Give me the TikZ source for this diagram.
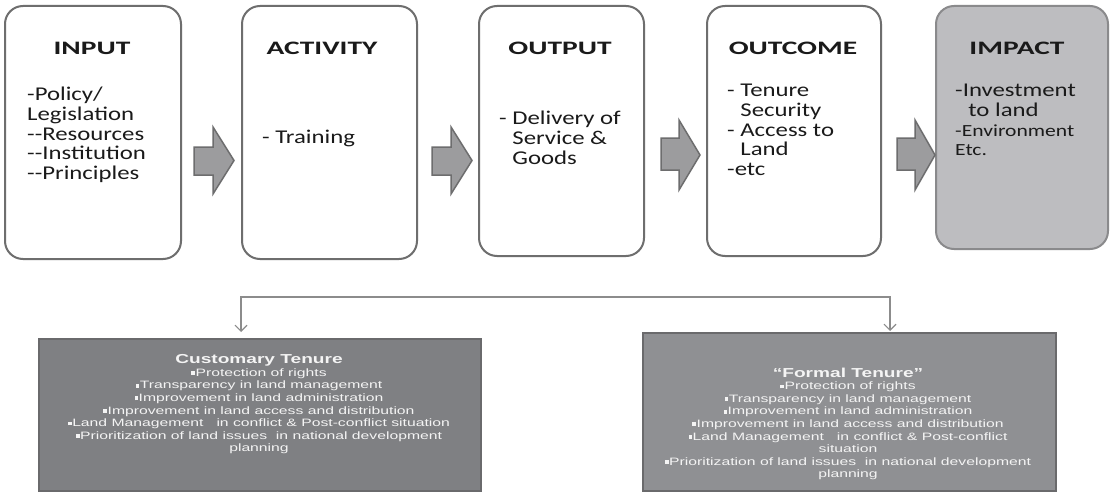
\documentclass[tikz,border=0pt]{standalone}
\usepackage{fontspec}
\setmainfont{Carlito}
\newfontfamily\bodyf[FakeStretch=1.27]{Carlito}
\newfontfamily\headf[FakeStretch=1.55]{Carlito}
\newfontfamily\lowf[FakeStretch=1.47]{Liberation Sans}
\usetikzlibrary{arrows.meta}
\definecolor{boxline}{HTML}{6E6E6E}
\definecolor{impfill}{HTML}{BDBDC0}
\definecolor{impline}{HTML}{8A8A8C}
\definecolor{arrfill}{HTML}{9C9C9E}
\definecolor{arrline}{HTML}{6D6D6E}
\definecolor{custfill}{HTML}{7F8083}
\definecolor{formfill}{HTML}{8F9093}
\definecolor{lowline}{HTML}{6A6A6C}
\definecolor{lowtext}{HTML}{F4F4F4}
\definecolor{conncol}{HTML}{8C8C8C}
\definecolor{txt}{HTML}{1A1A1A}
\newcommand{\sq}{\rule[1.3pt]{3.8pt}{3.8pt}\hspace{0.4pt}}
\newcommand{\dd}{-\kern0pt-}
\begin{document}
\begin{tikzpicture}[x=1pt,y=-1pt,
  topbox/.style={draw=boxline, line width=2pt, rounded corners=18pt, fill=white, anchor=north west, inner sep=0pt},
  headtxt/.style={font=\headf\bfseries\fontsize{19}{20}\selectfont, text=txt, anchor=base, inner sep=0pt},
  bodytxt/.style={font=\bodyf\fontsize{19.5}{19.7}\selectfont, text=txt, align=left, anchor=north west, inner sep=0pt},
  blockarrow/.style={fill=arrfill, draw=arrline, line width=1.5pt, line join=miter},
  lowbox/.style={draw=lowline, line width=2pt, anchor=north west, inner sep=0pt},
  lowtxt/.style={font=\lowf\fontsize{10.7}{12.6}\selectfont, text=lowtext, align=center, anchor=north, inner sep=0pt},
  conn/.style={draw=conncol, line width=1.1pt, {Straight Barb[length=6pt,width=12pt]}-{Straight Barb[length=6pt,width=12pt]}}
]
\path[use as bounding box, fill=white] (0,0) rectangle (1110,492);

% top boxes
\node[topbox, minimum width=176pt, minimum height=253pt] (input) at (4,5) {};
\node[topbox, minimum width=175pt, minimum height=253pt] (activity) at (241,5) {};
\node[topbox, minimum width=165pt, minimum height=250pt] (output) at (478,5) {};
\node[topbox, minimum width=174pt, minimum height=250pt] (outcome) at (706,5) {};
\node[topbox, minimum width=172pt, minimum height=243pt, fill=impfill, draw=impline] (impact) at (935,5) {};

% titles
\node[headtxt] (inputT) at (92,55) {INPUT};
\node[headtxt] (activityT) at (322,55) {ACTIVITY};
\node[headtxt] (outputT) at (560,55) {OUTPUT};
\node[headtxt] (outcomeT) at (793,55) {OUTCOME};
\node[headtxt] (impactT) at (1017,55) {IMPACT};

% bodies
\node[bodytxt] (inputB) at (27,87) {-Policy/\\Legislation\\\dd Resources\\\dd Institution\\\dd Principles};
\node[bodytxt] (activityB) at (262,130) {- Training};
\node[bodytxt] (outputB) at (499,111) {- Delivery of\\\phantom{- }Service \&\\\phantom{- }Goods};
\node[bodytxt] (outcomeB) at (727,84) {- Tenure\\\phantom{- }Security\\- Access to\\\phantom{- }Land\\-etc};
\node[bodytxt] (impactB) at (955,84) {-Investment\\\phantom{-}\ to land\\{\fontsize{17}{19.2}\selectfont -Environment}\\{\fontsize{17}{19.2}\selectfont Etc.}};

% block arrows
\path[blockarrow] (194,147) -- (213,147) -- (213,127) -- (234,160.5) -- (213,194) -- (213,175) -- (194,175) -- cycle;
\path[blockarrow] (432,147) -- (451,147) -- (451,127) -- (472,160.5) -- (451,194) -- (451,175) -- (432,175) -- cycle;
\path[blockarrow] (661,138) -- (679,138) -- (679,120) -- (700,155) -- (679,190) -- (679,170) -- (661,170) -- cycle;
\path[blockarrow] (897,138) -- (915,138) -- (915,120) -- (935,155) -- (915,190) -- (915,170) -- (897,170) -- cycle;

% bottom boxes
\node[lowbox, fill=custfill, minimum width=442pt, minimum height=152pt] (cust) at (38,338) {};
\node[lowbox, fill=formfill, minimum width=413pt, minimum height=158pt] (form) at (642,332) {};

\node[lowtxt] (custT) at (259,354.5) {{\fontsize{13}{12.6}\selectfont\bfseries Customary Tenure}\\
\sq Protection of rights\\
\sq Transparency in land management\\
\sq Improvement in land administration\\
\sq Improvement in land access and distribution\\
\sq Land Management\ \ \ in conflict \& Post-conflict situation\\
\sq Prioritization of land issues\ \ in national development\\
planning};

\node[lowtxt] (formT) at (848,367.5) {{\fontsize{13}{12.6}\selectfont\bfseries “Formal Tenure”}\\
\sq Protection of rights\\
\sq Transparency in land management\\
\sq Improvement in land administration\\
\sq Improvement in land access and distribution\\
\sq Land Management\ \ \ in conflict \& Post-conflict\\
situation\\
\sq Prioritization of land issues\ \ in national development\\
planning};

% connector
\coordinate (split) at (565,297);
\coordinate (ctip) at (241,332);
\coordinate (ftip) at (890,331);
\draw[conn] (ctip) |- (split) -| (ftip);
\end{tikzpicture}
\end{document}
